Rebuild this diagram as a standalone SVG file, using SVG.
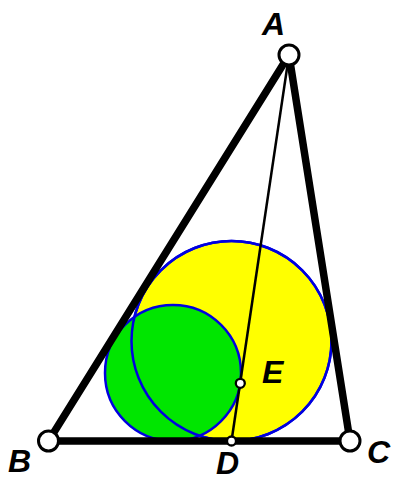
<svg xmlns="http://www.w3.org/2000/svg" width="397" height="481" viewBox="0 0 397 481">
<style>
.lbl{font-family:"Liberation Sans",Arial,sans-serif;font-weight:bold;font-style:italic;font-size:32px;fill:#000}
.side{stroke:#000;stroke-width:7.5;stroke-linecap:round;fill:none}
.thin{stroke:#000;stroke-width:2.5;fill:none}
.big{fill:#fff;stroke:#000;stroke-width:3}
.small{fill:#fff;stroke:#000;stroke-width:2.3}
.ring{fill:none;stroke:#0000e0;stroke-width:2.5}
</style>
<rect width="397" height="481" fill="#fff"/>
<g id="circles">
<circle cx="231.5" cy="341" r="100" fill="#ffff00" stroke="#0000e0" stroke-width="2.5"/>
<circle cx="173" cy="373" r="68" fill="#00e600" stroke="#0000e0" stroke-width="2.5"/>
<circle class="ring" cx="231.5" cy="341" r="100"/>
</g>
<g id="connectors">
<line class="side" x1="289" y1="55" x2="48.5" y2="441"/>
<line class="side" x1="289" y1="55" x2="350" y2="441"/>
<line class="side" x1="48.5" y1="441" x2="350" y2="441"/>
<line class="thin" x1="289" y1="55" x2="231.5" y2="441"/>
</g>
<g id="A"><circle class="big" cx="289" cy="55" r="10"/><text class="lbl" x="262" y="35">A</text></g>
<g id="B"><circle class="big" cx="48.5" cy="441" r="10"/><text class="lbl" x="8" y="472">B</text></g>
<g id="C"><circle class="big" cx="350" cy="441" r="10"/><text class="lbl" x="367" y="463">C</text></g>
<g id="D"><circle class="small" cx="231.5" cy="441" r="4.5"/><text class="lbl" x="216" y="474">D</text></g>
<g id="E"><circle class="small" cx="240.3" cy="383.3" r="4.5"/><text class="lbl" x="262" y="383">E</text></g>
</svg>
